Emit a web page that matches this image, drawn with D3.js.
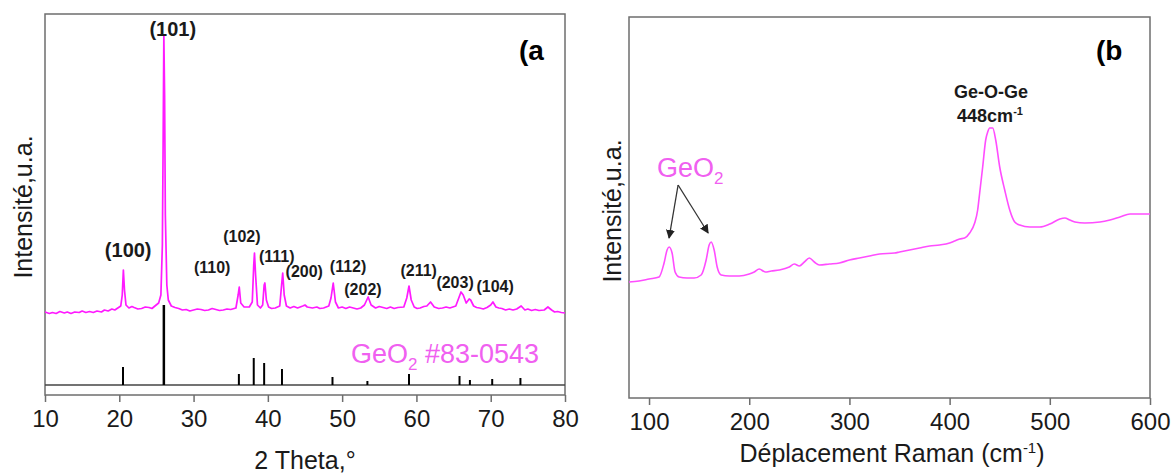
<!DOCTYPE html>
<html>
<head>
<meta charset="utf-8">
<script src="https://cdn.jsdelivr.net/npm/d3@7"></script>
<style>
  body { margin: 0; background: #fff; }
  text { font-family: Arial, "Liberation Sans", sans-serif; }
</style>
</head>
<body>
<svg id="chart" width="1176" height="475"></svg>
<script>
// XRD pattern (2 theta in degrees, intensity in a.u.)
const xrdTheta = [10, 10.6, 11, 11.5, 12, 12.6, 13, 13.5, 14, 14.6, 15, 15.5, 16, 16.5, 17, 17.6, 18, 18.5, 19, 19.4, 19.8, 20.2, 20.4, 20.55, 20.7, 20.9, 21.3, 21.7, 22, 22.5, 23, 23.5, 24, 24.4, 24.8, 25.3, 25.6, 25.8, 25.9, 26, 26.1, 26.2, 26.4, 26.6, 27, 27.5, 28, 28.5, 29, 29.5, 30, 30.5, 31, 31.5, 32, 32.5, 33, 33.5, 34, 34.5, 35, 35.7, 36, 36.15, 36.35, 36.8, 37.5, 37.9, 38.1, 38.2, 38.35, 38.6, 39, 39.3, 39.5, 39.6, 39.8, 40.1, 40.5, 41, 41.6, 41.85, 42, 42.2, 42.5, 43, 43.5, 44, 44.7, 45, 45.3, 46, 46.6, 47, 47.5, 48.2, 48.5, 48.8, 49.1, 49.5, 50, 50.5, 51, 51.5, 52, 52.5, 53, 53.5, 53.9, 54.5, 55, 55.5, 56, 56.5, 57, 57.5, 58.3, 58.7, 59, 59.3, 59.7, 60.1, 60.5, 61, 61.4, 61.9, 62.4, 63, 63.5, 64, 64.5, 65.3, 65.7, 66, 66.3, 66.7, 67.1, 67.3, 67.7, 68.1, 68.5, 69, 69.5, 70, 70.3, 70.7, 71.1, 71.5, 72, 72.5, 73, 73.5, 74.1, 74.6, 75, 75.5, 76, 76.5, 77.2, 77.7, 78.2, 78.6, 79, 79.5, 80];
const xrdIntensity = [83, 81.5, 82.5, 81.5, 83.5, 82, 83, 81.5, 83, 82.5, 84, 82.5, 83.5, 82.5, 84, 83, 85, 84, 86, 85, 87, 89, 100, 125, 105, 90, 87, 88.5, 87.5, 86, 86.5, 88, 87.5, 86.5, 89, 92, 100, 150, 250, 360, 300, 180, 110, 95, 89, 87.5, 86.5, 85, 85.5, 84, 85, 86, 85.5, 84.5, 85, 86.5, 85.5, 84.5, 85, 86, 85.5, 87, 100, 108, 92, 88, 88, 93, 130, 142, 120, 90, 87, 90, 110, 112, 95, 88, 86.5, 87, 89, 110, 122, 100, 89, 87, 88.5, 87, 89, 90, 88, 87, 88, 86.5, 87, 89, 97, 112, 93, 87, 88, 86.5, 88, 87, 86, 87, 90, 98, 90, 87, 88.5, 87.5, 86.5, 88, 86.5, 87.5, 88, 97, 109, 95, 88, 86.5, 87, 88.5, 89, 93, 88, 86.5, 87, 88, 87, 89, 97, 103, 100, 92, 96, 95, 89, 87.5, 87, 86, 87.5, 90, 93, 88, 87, 86.5, 85, 86, 85, 86, 89, 85, 86, 84.5, 85.5, 84.5, 85, 88, 85, 83, 83.5, 82.5, 82];

// Reference card GeO2 #83-0543 (stick positions and heights)
const refTheta = [20.5, 26.0, 36.1, 38.1, 39.5, 41.9, 48.7, 53.4, 59.0, 65.8, 67.2, 70.2, 74.0];
const refHeight = [28, 90, 21, 37, 32, 26, 18, 14, 21, 19, 15, 16, 17];
const refBase = 10;

// Miller index labels for panel (a)
const hklLabels = ["(100)", "(101)", "(110)", "(102)", "(111)", "(200)", "(112)", "(202)", "(211)", "(203)", "(104)"];
const hklTheta = [21.2, 27.2, 32.5, 36.5, 41.2, 44.9, 50.8, 52.8, 60.3, 65.2, 70.6];
const hklLevel = [138, 359, 122, 153, 133, 118, 123, 100, 119, 107, 103];
const hklBig = [true, true, false, false, false, false, false, false, false, false, false];

// Raman spectrum (shift in cm-1, intensity in a.u.)
const ramanShift = [80, 90, 100, 110, 115, 118, 120, 123, 126, 130, 138, 145, 152, 157, 160, 162, 165, 168, 172, 180, 190, 200, 205, 210, 216, 222, 230, 240, 245, 250, 255, 260, 265, 270, 280, 290, 300, 310, 320, 330, 345, 350, 360, 370, 380, 390, 400, 405, 410, 415, 420, 425, 428, 430, 433, 436, 438, 440, 443, 446, 450, 455, 460, 465, 470, 480, 490, 500, 510, 515, 520, 525, 535, 550, 560, 570, 580, 590, 600];
const ramanIntensity = [116, 117, 119, 121, 135, 148, 151, 145, 126, 121, 120, 120, 123, 138, 153, 156, 148, 131, 123, 122, 122, 124, 126, 129, 126, 127, 128, 131, 134, 132, 136, 140, 136, 133, 134, 135, 138, 140, 142, 144, 145, 146, 148, 150, 152, 153, 155, 157, 159, 160, 165, 175, 188, 205, 231, 258, 266, 270, 270, 258, 231, 208, 188, 176, 173, 171, 171, 174, 179, 180, 178, 176, 175, 176, 178, 181, 184, 184, 184];

// GeO2 arrow: start point and the two peaks it points to (cm-1, a.u.)
const arrowStart = [129, 213];
const arrowEnds = [[120, 160], [159, 165]];

const xTicksA = [10, 20, 30, 40, 50, 60, 70, 80];
const xTicksB = [100, 200, 300, 400, 500, 600];

const magenta = "#ff1aff";
const lightMagenta = "#f060f0";
const frameColor = "#6e6e6e";
const textColor = "#1a1a1a";

const svg = d3.select("#chart");

// Draw a boxed panel with a bottom axis; returns the scales and group
function drawFrame(box, xDomain, ticks) {
    const x = d3.scaleLinear().domain(xDomain).range([box.left, box.right]);
    const y = d3.scaleLinear().domain([0, box.bottom - box.top]).range([box.bottom, box.top]);
    const g = svg.append("g");

    const axis = g.append("g")
        .attr("transform", `translate(0,${box.bottom})`)
        .call(d3.axisBottom(x).tickValues(ticks).tickSize(7).tickSizeOuter(0).tickPadding(8).tickFormat(d3.format("d")));
    axis.select(".domain").remove();
    axis.selectAll("line").attr("stroke", frameColor).attr("stroke-width", 1.5);
    axis.selectAll("text")
        .style("font-size", "24px")
        .style("font-family", "Arial, 'Liberation Sans', sans-serif")
        .attr("fill", textColor);

    g.append("rect")
        .attr("x", box.left)
        .attr("y", box.top)
        .attr("width", box.right - box.left)
        .attr("height", box.bottom - box.top)
        .attr("fill", "none")
        .attr("stroke", frameColor)
        .attr("stroke-width", 1.5);
    return { x, y, g };
}

// ---------- Panel (a): XRD ----------
const boxA = { left: 45, right: 565, top: 14, bottom: 395 };
const pa = drawFrame(boxA, [10, 80], xTicksA);

// reference baseline
pa.g.append("line")
    .attr("x1", boxA.left).attr("x2", boxA.right)
    .attr("y1", pa.y(refBase)).attr("y2", pa.y(refBase))
    .attr("stroke", "#444").attr("stroke-width", 1.5);

pa.g.selectAll(".stick")
    .data(refTheta)
    .enter()
    .append("line")
    .attr("class", "stick")
    .attr("x1", d => pa.x(d)).attr("x2", d => pa.x(d))
    .attr("y1", pa.y(refBase))
    .attr("y2", (d, i) => pa.y(refHeight[i]))
    .attr("stroke", "#000")
    .attr("stroke-width", (d, i) => i === 1 ? 2.5 : 2);

const xrdLine = d3.line()
    .x((d, i) => pa.x(xrdTheta[i]))
    .y(d => pa.y(d));

pa.g.append("path")
    .datum(xrdIntensity)
    .attr("d", xrdLine)
    .attr("fill", "none")
    .attr("stroke", magenta)
    .attr("stroke-width", 1.7)
    .attr("stroke-linejoin", "round");

pa.g.selectAll(".hkl")
    .data(hklLabels)
    .enter()
    .append("text")
    .attr("class", "hkl")
    .attr("x", (d, i) => pa.x(hklTheta[i]))
    .attr("y", (d, i) => pa.y(hklLevel[i]))
    .attr("text-anchor", "middle")
    .style("font-size", (d, i) => hklBig[i] ? "20px" : "16px")
    .style("font-weight", "bold")
    .attr("fill", textColor)
    .text(d => d);

const cardLabel = pa.g.append("text")
    .attr("x", 351)
    .attr("y", 363)
    .style("font-size", "27px")
    .attr("fill", lightMagenta);
cardLabel.append("tspan").text("GeO");
cardLabel.append("tspan").attr("dy", 7).style("font-size", "17px").text("2");
cardLabel.append("tspan").attr("dy", -7).text(" #83-0543");

pa.g.append("text")
    .attr("x", 519).attr("y", 60)
    .style("font-size", "28px").style("font-weight", "bold")
    .attr("fill", "#000")
    .text("(a");

pa.g.append("text")
    .attr("x", 305).attr("y", 469)
    .attr("text-anchor", "middle")
    .style("font-size", "25px")
    .attr("fill", textColor)
    .text("2 Theta,°");

pa.g.append("text")
    .attr("transform", "translate(32,207) rotate(-90)")
    .attr("text-anchor", "middle")
    .style("font-size", "25px")
    .attr("fill", textColor)
    .text("Intensité,u.a.");

// ---------- Panel (b): Raman ----------
const boxB = { left: 629, right: 1150, top: 17, bottom: 398 };
const pb = drawFrame(boxB, [80, 600], xTicksB);

const ramanLine = d3.line()
    .x((d, i) => pb.x(ramanShift[i]))
    .y(d => pb.y(d))
    .curve(d3.curveMonotoneX);

pb.g.append("path")
    .datum(ramanIntensity)
    .attr("d", ramanLine)
    .attr("fill", "none")
    .attr("stroke", "#ff4dff")
    .attr("stroke-width", 1.6);

// GeO2 annotation with two arrows
svg.append("defs").append("marker")
    .attr("id", "arrow")
    .attr("viewBox", "0 0 10 10")
    .attr("refX", 9).attr("refY", 5)
    .attr("markerWidth", 9).attr("markerHeight", 9)
    .attr("markerUnits", "userSpaceOnUse")
    .attr("orient", "auto")
    .append("path")
    .attr("d", "M0,0 L10,5 L0,10 z")
    .attr("fill", "#222");

const geo2 = pb.g.append("text")
    .attr("x", 657).attr("y", 177)
    .style("font-size", "27px")
    .attr("fill", lightMagenta);
geo2.append("tspan").text("GeO");
geo2.append("tspan").attr("dy", 7).style("font-size", "17px").text("2");

arrowEnds.forEach(t => {
    pb.g.append("line")
        .attr("x1", pb.x(arrowStart[0])).attr("y1", pb.y(arrowStart[1]))
        .attr("x2", pb.x(t[0])).attr("y2", pb.y(t[1]))
        .attr("stroke", "#333")
        .attr("stroke-width", 1.3)
        .attr("marker-end", "url(#arrow)");
});

pb.g.append("text")
    .attr("x", 991).attr("y", 98)
    .attr("text-anchor", "middle")
    .style("font-size", "18px").style("font-weight", "bold")
    .attr("fill", textColor)
    .text("Ge-O-Ge");

const peakLabel = pb.g.append("text")
    .attr("x", 990).attr("y", 122)
    .attr("text-anchor", "middle")
    .style("font-size", "18px").style("font-weight", "bold")
    .attr("fill", textColor);
peakLabel.append("tspan").text("448cm");
peakLabel.append("tspan").attr("dy", -7).style("font-size", "11px").text("-1");

pb.g.append("text")
    .attr("x", 1096).attr("y", 60)
    .style("font-size", "28px").style("font-weight", "bold")
    .attr("fill", "#000")
    .text("(b");

const ramanTitle = pb.g.append("text")
    .attr("x", 892).attr("y", 462)
    .attr("text-anchor", "middle")
    .style("font-size", "25px")
    .attr("fill", textColor);
ramanTitle.append("tspan").text("Déplacement Raman (cm");
ramanTitle.append("tspan").attr("dy", -9).style("font-size", "15px").text("-1");
ramanTitle.append("tspan").attr("dy", 9).text(")");

pb.g.append("text")
    .attr("transform", "translate(621,211) rotate(-90)")
    .attr("text-anchor", "middle")
    .style("font-size", "25px")
    .attr("fill", textColor)
    .text("Intensité,u.a.");
</script>
</body>
</html>
